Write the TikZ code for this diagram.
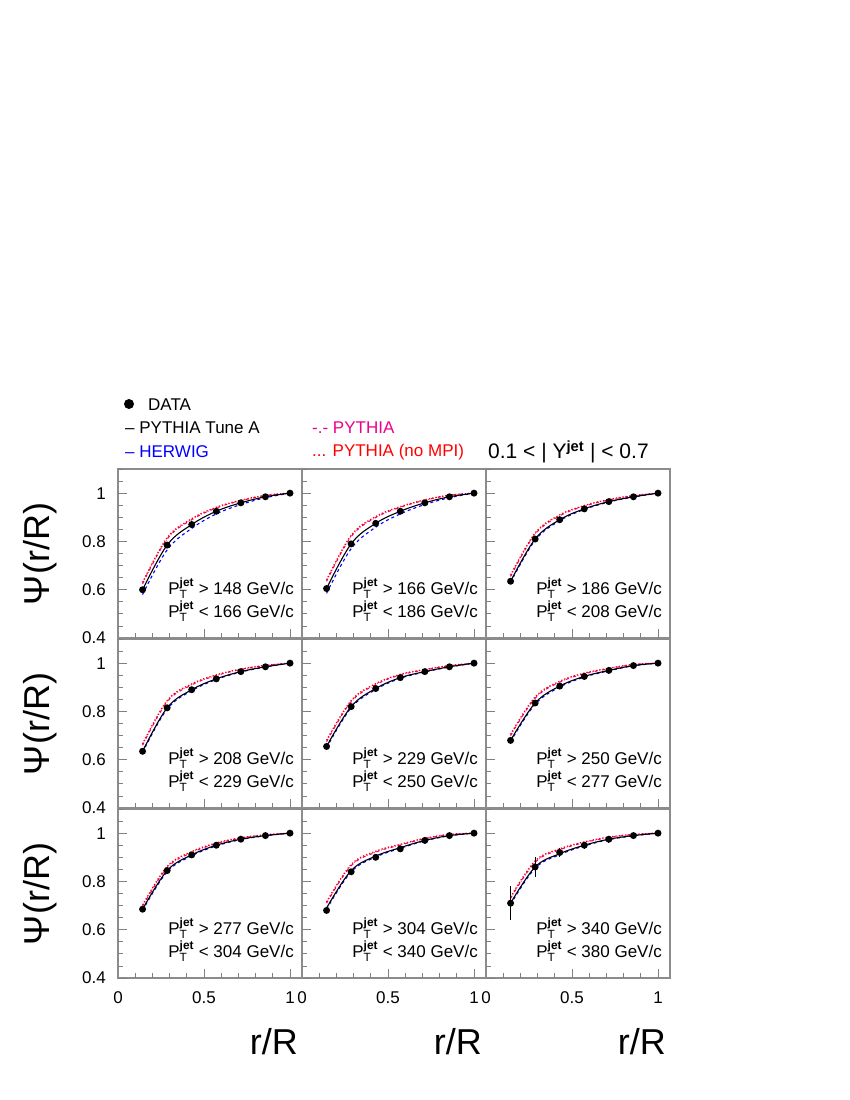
\documentclass[tikz,border=0pt]{standalone}
\usepackage{fontspec}
\setmainfont{Liberation Sans}
\begin{document}
\begin{tikzpicture}[x=1pt,y=-1pt,
  frame/.style={draw=black!45,line width=1.2pt},
  tick/.style={draw=black!50,line width=0.8pt},
  dat/.style={fill=black},
  tuneA/.style={black,line width=1.1pt},
  herw/.style={blue,dashed,line width=1.1pt},
  pyth/.style={magenta,dash dot,line width=1.1pt},
  nompi/.style={red,dotted,line width=1.3pt},
  lbl/.style={font=\fontsize{17}{17}\selectfont,inner sep=0pt},
  big/.style={font=\fontsize{36}{36}\selectfont,inner sep=0pt}]
\useasboundingbox (0,0) rectangle (850,1100);
\newcommand\mkcurve[2]{\xdef\crv{}\foreach \v [count=\i] in {#1}{%
  \pgfmathsetmacro\xx{172*\i/7}%
  \pgfmathsetmacro\ff{{1,1,0.8,0.55,0.35,0.2,0}[\i-1]}%
  \pgfmathsetmacro\yy{169-(\v+(#2)*\ff-0.4)*241.4}%
  \xdef\crv{\crv(\xx,\yy)}}}
\newcommand\drawcurve[3]{\mkcurve{#1}{#2}\edef\tmp{\noexpand\draw[#3] plot[smooth,tension=0.6] coordinates {\crv};}\tmp}
\newcommand\panel[8]{%
 \begin{scope}[shift={(#1,#2)}]
  \draw[frame] (0,0) rectangle (184,169);
  \foreach \k in {0,...,14}{\pgfmathsetmacro\yy{169-\k*12.07}
    \pgfmathsetmacro\ll{mod(\k,4)==0?9:5}\draw[tick] (0,\yy) -- ++(\ll,0);}
  \foreach \k in {1,...,10}{\pgfmathsetmacro\xx{\k*17.2}
    \pgfmathsetmacro\ll{mod(\k,5)==0?9:5}\draw[tick] (\xx,169) -- ++(0,-\ll);}
  \drawcurve{#3}{#5}{pyth}
  \drawcurve{#3}{#5+0.005}{nompi}
  \drawcurve{#3}{#4}{herw}
  \drawcurve{#3}{0}{tuneA}
  \foreach \v/\e [count=\i] in {#8}{\pgfmathsetmacro\xx{172*\i/7}
    \pgfmathsetmacro\yy{169-(\v-0.4)*241.4}\pgfmathsetmacro\ee{\e*241.4}
    \draw[line width=1pt] (\xx,\yy-\ee) -- (\xx,\yy+\ee);
    \fill[dat] (\xx,\yy) circle (3.5);}
  \node[lbl,anchor=east] at (176,119) {P$_{\mathrm{T}}^{\mathbf{jet}}$ > #6 GeV/c};
  \node[lbl,anchor=east] at (176,142) {P$_{\mathrm{T}}^{\mathbf{jet}}$ < #7 GeV/c};
 \end{scope}}
\panel{118}{469}{0.60,0.785,0.87,0.925,0.96,0.985,1}{-0.02}{0.025}{148}{166}{0.60/0.01,0.785/0.01,0.87/0,0.925/0,0.96/0,0.985/0,1/0}
\panel{302}{469}{0.605,0.79,0.875,0.925,0.96,0.985,1}{-0.02}{0.03}{166}{186}{0.605/0.01,0.79/0.01,0.875/0,0.925/0,0.96/0,0.985/0,1/0}
\panel{486}{469}{0.635,0.81,0.89,0.935,0.965,0.985,1}{-0.005}{0.02}{186}{208}{0.635/0.01,0.81/0,0.89/0,0.935/0,0.965/0,0.985/0,1/0}
\panel{118}{639}{0.635,0.815,0.89,0.935,0.965,0.985,1}{-0.005}{0.025}{208}{229}{0.635/0.01,0.815/0.01,0.89/0,0.935/0,0.965/0,0.985/0,1/0}
\panel{302}{639}{0.655,0.82,0.895,0.94,0.965,0.985,1}{-0.005}{0.02}{229}{250}{0.655/0.01,0.82/0,0.895/0,0.94/0,0.965/0,0.985/0,1/0}
\panel{486}{639}{0.68,0.835,0.905,0.945,0.97,0.99,1}{-0.005}{0.02}{250}{277}{0.68/0.01,0.835/0,0.905/0,0.945/0,0.97/0,0.99/0,1/0}
\panel{118}{809}{0.685,0.845,0.91,0.95,0.975,0.99,1}{-0.005}{0.012}{277}{304}{0.685/0,0.845/0.01,0.91/0,0.95/0,0.975/0,0.99/0,1/0}
\panel{302}{809}{0.69,0.845,0.905,0.94,0.97,0.99,1}{-0.005}{0.02}{304}{340}{0.68/0.01,0.84/0.01,0.90/0.01,0.935/0.01,0.97/0,0.99/0,1/0}
\panel{486}{809}{0.71,0.86,0.915,0.95,0.975,0.99,1}{-0.005}{0.02}{340}{380}{0.71/0.07,0.86/0.04,0.92/0.02,0.95/0.015,0.975/0.015,0.99/0,1/0}
\foreach \r in {469,639,809}{
  \foreach \v/\t in {0.4/0.4,0.6/0.6,0.8/0.8,1/1}{
    \node[lbl,anchor=east] at (106,{\r+169-(\v-0.4)*241.4}) {\t};}
  \node[big,rotate=90] at (40,\r+85) {Ψ(r/R)};}
\foreach \x in {118,302,486}{
  \node[lbl] at (\x,998) {0};
  \node[lbl] at (\x+86,998) {0.5};
  \node[lbl] at (\x+172,998) {1};
  \node[big,anchor=east] at (\x+180,1042) {r/R};}
\fill (129,404) circle (5);
\node[lbl,anchor=west] (ld) at (148,405) {DATA};
\node[lbl,anchor=west] (lt) at (125,428) {–\ PYTHIA Tune A};
\node[lbl,anchor=west,blue] (lh) at (125,452) {-- HERWIG};
\node[lbl,anchor=west,magenta] (lp) at (312,428) {-.- PYTHIA};
\node[lbl,anchor=west,red] (ln) at (312,452) {... PYTHIA (no MPI)};
\node[lbl,anchor=west,font=\fontsize{21}{21}\selectfont] (ly) at (488,452) {0.1 < | Y$^{\mathbf{jet}}$ | < 0.7};
\end{tikzpicture}
\end{document}
